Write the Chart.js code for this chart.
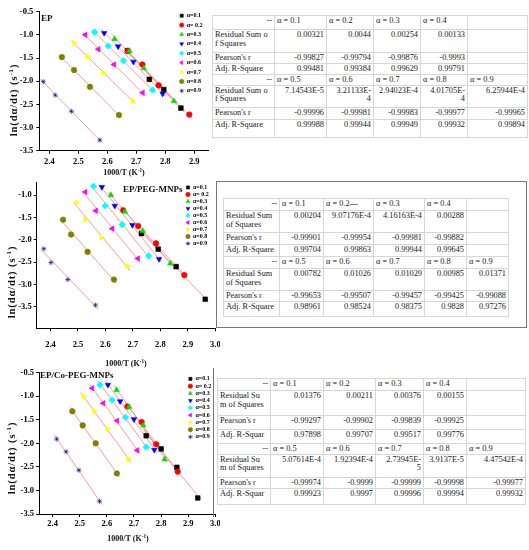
<!DOCTYPE html>
<html>
<head>
<meta charset="utf-8">
<script src="https://cdn.jsdelivr.net/npm/chart.js@4.4.1/dist/chart.umd.min.js"></script>
<style>
  body { margin: 0; width: 529px; height: 550px; position: relative; overflow: hidden; background: #fff; font-family: 'Liberation Serif', serif; }
  canvas { position: absolute; left: 0; }
  .rotulo { position: absolute; font-weight: bold; color: #111; white-space: nowrap; z-index: 2; line-height: 10px; }
  .tituloX { position: absolute; font-weight: bold; font-size: 8px; color: #111; white-space: nowrap; transform: translate(-50%, -50%); z-index: 2; }
  .tituloY { position: absolute; font-weight: bold; font-size: 10.5px; letter-spacing: 0.9px; color: #111; white-space: nowrap; transform: translate(-50%, -50%) rotate(-90deg); z-index: 2; }
  sup { font-size: 65%; vertical-align: 0.45em; line-height: 0; }
  .moldura { position: absolute; z-index: 3; background: #fff; border: 1px solid #777; box-sizing: border-box; }
  .linha { position: absolute; z-index: 3; border-left: 1px solid #777; }
  .tabela { position: absolute; z-index: 4; border-collapse: collapse; table-layout: fixed; font-size: 8.3px; color: #222; background: #fff; border: 1px solid #999; }
  .tabela td { border: 1px solid #d6d6d6; padding: 1px 2px 0 2px; vertical-align: top; line-height: 8.6px; white-space: pre; overflow: hidden; }
  .tabela td.dir { text-align: right; }
  .tabela td.esq { text-align: left; }
</style>
</head>
<body>

<canvas id="graficoEP" width="215" height="180" style="top:0px"></canvas>
<canvas id="graficoPEG" width="220" height="190" style="top:178px"></canvas>
<canvas id="graficoCo" width="220" height="182" style="top:368px"></canvas>

<div class="rotulo" style="left:41px; top:12.5px; font-size:9px">EP</div>
<div class="rotulo" style="left:123px; top:183.5px; font-size:9px">EP/PEG-MNPs</div>
<div class="rotulo" style="left:40px; top:370px; font-size:9px">EP/Co-PEG-MNPs</div>

<div class="tituloY" style="left:12.5px; top:100px">ln(dα/dt) (s<sup>-1</sup>)</div>
<div class="tituloY" style="left:10.5px; top:282px">ln(dα/dt) (s<sup>-1</sup>)</div>
<div class="tituloY" style="left:11px; top:458px">ln(dα/dt) (s<sup>-1</sup>)</div>

<div class="tituloX" style="left:124px; top:172px">1000/T (K<sup>-1</sup>)</div>
<div class="tituloX" style="left:126px; top:363px">1000/T (K<sup>-1</sup>)</div>
<div class="tituloX" style="left:128px; top:538px">1000/T (K<sup>-1</sup>)</div>

<div class="moldura" style="left:216px; top:181px; width:311px; height:147px"></div>
<div class="linha" style="left:213px; top:368px; height:149px"></div>

<table class="tabela" id="tabelaEP"></table>
<table class="tabela" id="tabelaPEG"></table>
<table class="tabela" id="tabelaCo"></table>

<script>
// =========================================================
// 1. DATA
// =========================================================
const alphaLabels = ['α=0.1', 'α= 0.2', 'α=0.3', 'α=0.4', 'α=0.5', 'α=0.6', 'α=0.7', 'α=0.8', 'α=0.9'];

// EP : 1000/T and ln(dα/dt), one row per conversion α
const epInvT = [
    [2.670, 2.745, 2.795, 2.854],
    [2.670, 2.721, 2.777, 2.883],
    [2.625, 2.676, 2.726, 2.830],
    [2.589, 2.637, 2.690, 2.791],
    [2.556, 2.603, 2.656, 2.756],
    [2.524, 2.569, 2.623, 2.722],
    [2.486, 2.531, 2.586, 2.687],
    [2.443, 2.485, 2.540, 2.640],
    [2.379, 2.420, 2.476, 2.574]
];
const epLnRate = [
    [-1.34, -1.96, -2.18, -2.58],
    [-1.35, -1.64, -2.09, -2.72],
    [-1.09, -1.35, -1.72, -2.43],
    [-0.96, -1.25, -1.58, -2.27],
    [-0.94, -1.24, -1.56, -2.19],
    [-1.00, -1.31, -1.64, -2.25],
    [-1.18, -1.47, -1.82, -2.42],
    [-1.48, -1.76, -2.12, -2.73],
    [-2.01, -2.30, -2.65, -3.27]
];

// EP/PEG-MNPs
const pegInvT = [
    [2.731, 2.792, 2.857, 2.963],
    [2.665, 2.719, 2.784, 2.887],
    [2.620, 2.671, 2.736, 2.836],
    [2.587, 2.634, 2.698, 2.795],
    [2.557, 2.599, 2.661, 2.757],
    [2.527, 2.565, 2.625, 2.718],
    [2.495, 2.527, 2.586, 2.680],
    [2.446, 2.475, 2.535, 2.631],
    [2.376, 2.402, 2.463, 2.564]
];
const pegLnRate = [
    [-1.86, -2.21, -2.60, -3.33],
    [-1.34, -1.69, -2.08, -2.79],
    [-1.00, -1.37, -1.80, -2.53],
    [-0.82, -1.24, -1.67, -2.43],
    [-0.80, -1.24, -1.66, -2.36],
    [-0.93, -1.35, -1.75, -2.42],
    [-1.17, -1.55, -1.95, -2.59],
    [-1.55, -1.88, -2.27, -2.89],
    [-2.20, -2.51, -2.89, -3.46]
];

// EP/Co-PEG-MNPs
const coInvT = [
    [2.745, 2.800, 2.858, 2.935],
    [2.676, 2.728, 2.782, 2.861],
    [2.636, 2.682, 2.734, 2.813],
    [2.604, 2.649, 2.700, 2.775],
    [2.575, 2.619, 2.669, 2.745],
    [2.546, 2.587, 2.638, 2.712],
    [2.514, 2.553, 2.603, 2.679],
    [2.473, 2.511, 2.559, 2.637],
    [2.415, 2.450, 2.497, 2.573]
];
const coLnRate = [
    [-1.84, -2.12, -2.51, -3.16],
    [-1.22, -1.55, -2.02, -2.60],
    [-0.87, -1.23, -1.62, -2.34],
    [-0.76, -1.11, -1.49, -2.14],
    [-0.76, -1.08, -1.45, -2.08],
    [-0.83, -1.15, -1.52, -2.15],
    [-1.01, -1.32, -1.70, -2.33],
    [-1.32, -1.62, -2.00, -2.64],
    [-1.91, -2.18, -2.57, -3.23]
];

// tick labels
const epXTicks = [2.4, 2.5, 2.6, 2.7, 2.8, 2.9];
const epYTicks = [-3.5, -3.0, -2.5, -2.0, -1.5, -1.0, -0.5];
const pegXTicks = [2.4, 2.5, 2.6, 2.7, 2.8, 2.9, 3.0];
const pegYTicks = [-3.5, -3.0, -2.5, -2.0, -1.5, -1.0];
const coXTicks = [2.4, 2.5, 2.6, 2.7, 2.8, 2.9, 3.0];
const coYTicks = [-3.5, -3.0, -2.5, -2.0, -1.5, -1.0, -0.5];

// fit statistics tables
const epTable = [
    ['--', 'α = 0.1', 'α = 0.2', 'α = 0.3', 'α = 0.4', ''],
    ['Residual Sum o\nf Squares', '0.00321', '0.0044', '0.00254', '0.00133', ''],
    ["Pearson's r", '-0.99827', '-0.99794', '-0.99876', '-0.9993', ''],
    ['Adj. R-Square', '0.99481', '0.99384', '0.99629', '0.99791', ''],
    ['--', 'α = 0.5', 'α = 0.6', 'α = 0.7', 'α = 0.8', 'α = 0.9'],
    ['Residual Sum o\nf Squares', '7.14543E-5', '3.21133E-\n4', '2.94023E-4', '4.01705E-\n4', '6.25944E-4'],
    ["Pearson's r", '-0.99996', '-0.99981', '-0.99983', '-0.99977', '-0.99965'],
    ['Adj. R-Square', '0.99988', '0.99944', '0.99949', '0.99932', '0.99894']
];
const pegTable = [
    ['--', 'α = 0.1', 'α = 0.2—', 'α = 0.3', 'α = 0.4', ''],
    ['Residual Sum\nof Squares', '0.00204', '9.07176E-4', '4.16163E-4', '0.00288', ''],
    ["Pearson's r", '-0.99901', '-0.99954', '-0.99981', '-0.99882', ''],
    ['Adj. R-Square', '0.99704', '0.99863', '0.99944', '0.99645', ''],
    ['--', 'α = 0.5', 'α = 0.6', 'α = 0.7', 'α = 0.8', 'α = 0.9'],
    ['Residual Sum\nof Squares', '0.00782', '0.01026', '0.01029', '0.00985', '0.01371'],
    ["Pearson's r", '-0.99653', '-0.99507', '-0.99457', '-0.99425', '-0.99088'],
    ['Adj. R-Square', '0.98961', '0.98524', '0.98375', '0.9828', '0.97276']
];
const coTable = [
    ['--', 'α = 0.1', 'α = 0.2', 'α = 0.3', 'α = 0.4', ''],
    ['Residual Su\nm of Squares', '0.01376', '0.00211', '0.00376', '0.00155', ''],
    ["Pearson's r", '-0.99297', '-0.99902', '-0.99839', '-0.99925', ''],
    ['Adj. R-Squar', '0.97898', '0.99707', '0.99517', '0.99776', ''],
    ['--', 'α = 0.5', 'α = 0.6', 'α = 0.7', 'α = 0.8', 'α = 0.9'],
    ['Residual Su\nm of Squares', '5.07614E-4', '1.92394E-4', '2.73945E-\n5', '3.9137E-5', '4.47542E-4'],
    ["Pearson's r", '-0.99974', '-0.9999', '-0.99999', '-0.99998', '-0.99977'],
    ['Adj. R-Squar', '0.99923', '0.9997', '0.99996', '0.99994', '0.99932']
];


// =========================================================
// 2. STYLES (Origin-like markers)
// =========================================================
const seriesColors = ['#000000', '#ff0000', '#00e000', '#0000ff', '#00ffff', '#ff00ff', '#ffff00', '#808000', '#000080'];
const markerStyles = ['rect', 'circle', 'triangle', 'triangle', 'rectRot', 'triangle', 'triangle', 'circle', 'star'];
const markerRotation = [0, 0, 0, 180, 0, -90, 90, 0, 0];
const markerRadius = [3.3, 2.8, 3.2, 3.2, 3.3, 3.2, 3.2, 2.8, 2.6];
const fitColor = 'rgba(240, 110, 110, 0.75)';
const tickFont = { family: "'Liberation Serif', serif", size: 8.5, weight: 'bold' };

Chart.defaults.font.family = "'Liberation Serif', serif";


// =========================================================
// 3. LEGEND INSIDE THE PLOT (top right corner)
// =========================================================
const insetLegend = {
    id: 'insetLegend',
    afterDatasetsDraw(chart, args, opts) {
        const ctx = chart.ctx;
        const area = chart.chartArea;
        const x = area.right - opts.dx;
        let y = area.top + opts.dy;
        chart.data.datasets.forEach(ds => {
            if (ds.isFit) return;
            ctx.save();
            ctx.fillStyle = ds.backgroundColor;
            ctx.strokeStyle = ds.borderColor;
            ctx.lineWidth = 0.6;
            Chart.helpers.drawPoint(ctx, { pointStyle: ds.pointStyle, rotation: ds.pointRotation, radius: 2.2, borderWidth: 0.6 }, x, y);
            ctx.fillStyle = '#000';
            ctx.font = "bold 6px 'Liberation Serif', serif";
            ctx.textBaseline = 'middle';
            ctx.fillText(ds.label, x + 5, y);
            ctx.restore();
            y += opts.step;
        });
    }
};


// =========================================================
// 4. HELPERS
// =========================================================
function linearFit(xs, ys) {
    const n = xs.length;
    const mx = xs.reduce((a, b) => a + b, 0) / n;
    const my = ys.reduce((a, b) => a + b, 0) / n;
    let sxy = 0, sxx = 0;
    for (let i = 0; i < n; i++) {
        sxy += (xs[i] - mx) * (ys[i] - my);
        sxx += (xs[i] - mx) * (xs[i] - mx);
    }
    const b = sxy / sxx;
    return { a: my - b * mx, b: b };
}

function drawPanel(canvasId, invT, lnRate, xTicks, yTicks, lay) {
    const datasets = [];
    invT.forEach((xs, i) => {
        const ys = lnRate[i];
        // later α drawn on top (lower order = drawn last)
        datasets.push({
            label: alphaLabels[i],
            data: xs.map((x, k) => ({ x: x, y: ys[k] })),
            pointStyle: markerStyles[i],
            pointRotation: markerRotation[i],
            pointRadius: markerRadius[i],
            backgroundColor: seriesColors[i],
            borderColor: seriesColors[i],
            borderWidth: 0.6,
            order: 10 - i
        });
        // straight fit line for this α
        const fit = linearFit(xs, ys);
        const x0 = Math.min(...xs) - 0.01;
        const x1 = Math.max(...xs) + 0.01;
        datasets.push({
            label: '',
            isFit: true,
            data: [{ x: x0, y: fit.a + fit.b * x0 }, { x: x1, y: fit.a + fit.b * x1 }],
            showLine: true,
            pointRadius: 0,
            borderColor: fitColor,
            borderWidth: 0.9,
            order: 30
        });
    });

    return new Chart(document.getElementById(canvasId), {
        type: 'scatter',
        data: { datasets: datasets },
        options: {
            responsive: false,
            animation: false,
            layout: { padding: { top: lay.padTop, right: lay.padRight, left: 0, bottom: 0 } },
            plugins: {
                legend: { display: false },
                tooltip: { enabled: false },
                insetLegend: lay.legend
            },
            scales: {
                x: {
                    type: 'linear',
                    min: lay.xMin,
                    max: lay.xMax,
                    afterBuildTicks: (s) => { s.ticks = xTicks.map(v => ({ value: v })); },
                    afterFit: (s) => { s.height = lay.xHeight; s.paddingLeft = 0; s.paddingRight = 0; },
                    ticks: { padding: lay.xTickPad, font: tickFont, color: '#000', autoSkip: false, maxRotation: 0, callback: (v) => Number(v).toFixed(1) },
                    grid: { drawOnChartArea: false, tickLength: 3, color: '#000', lineWidth: 1 },
                    border: { color: '#000', width: 1 }
                },
                y: {
                    type: 'linear',
                    min: lay.yMin,
                    max: lay.yMax,
                    afterBuildTicks: (s) => { s.ticks = yTicks.map(v => ({ value: v })); },
                    afterFit: (s) => { s.width = lay.yWidth; s.paddingTop = 0; s.paddingBottom = 0; },
                    ticks: { padding: lay.yTickPad, font: tickFont, color: '#000', autoSkip: false, callback: (v) => Number(v).toFixed(1) },
                    grid: { drawOnChartArea: false, tickLength: 3, color: '#000', lineWidth: 1 },
                    border: { color: '#000', width: 1 }
                }
            }
        },
        plugins: [insetLegend]
    });
}

function buildTable(id, rows, colWidths, rowHeights, left, top) {
    const tabela = document.getElementById(id);
    tabela.style.left = left + 'px';
    tabela.style.top = top + 'px';
    tabela.style.width = colWidths.reduce((a, b) => a + b, 0) + 'px';
    let html = '<colgroup>' + colWidths.map(w => `<col style="width:${w}px">`).join('') + '</colgroup>';
    rows.forEach((row, r) => {
        html += `<tr style="height:${rowHeights[r]}px">`;
        row.forEach((cell, c) => {
            let cls = 'dir';
            if (c === 0 && cell !== '--') cls = 'esq';
            if (c > 0 && cell.startsWith('α')) cls = 'esq';
            html += `<td class="${cls}">${cell}</td>`;
        });
        html += '</tr>';
    });
    tabela.innerHTML = html;
}


// =========================================================
// 5. DRAW EVERYTHING
// =========================================================
drawPanel('graficoEP', epInvT, epLnRate, epXTicks, epYTicks, {
    xMin: 2.365, xMax: 2.95, yMin: -3.5, yMax: -0.5,
    padTop: 11.7, padRight: 6.3, yWidth: 39.3, xHeight: 29.3,
    xTickPad: 3, yTickPad: 3,
    legend: { dx: 27, dy: 4, step: 9.4 }
});

drawPanel('graficoPEG', pegInvT, pegLnRate, pegXTicks, pegYTicks, {
    xMin: 2.35, xMax: 3.0, yMin: -3.98, yMax: -0.72,
    padTop: 3.4, padRight: 3.3, yWidth: 36.7, xHeight: 39.7,
    xTickPad: 8, yTickPad: 2,
    legend: { dx: 27.4, dy: 4.9, step: 7 }
});

drawPanel('graficoCo', coInvT, coLnRate, coXTicks, coYTicks, {
    xMin: 2.35, xMax: 3.0, yMin: -3.5, yMax: -0.5,
    padTop: 0, padRight: 3.3, yWidth: 39, xHeight: 36,
    xTickPad: 2, yTickPad: 2,
    legend: { dx: 25, dy: 6.3, step: 7.25 }
});

buildTable('tabelaEP', epTable, [62, 52, 47, 47, 47, 60], [14, 23, 10, 11, 11, 22, 12, 18], 212, 15);
buildTable('tabelaPEG', pegTable, [56, 44, 50, 51, 42, 42], [12, 22, 12, 12, 12, 22, 10, 15], 223, 198);
buildTable('tabelaCo', coTable, [53, 53, 52, 48, 43, 59], [12, 25, 14, 14, 10, 23, 11, 16], 217, 378);
</script>
</body>
</html>
